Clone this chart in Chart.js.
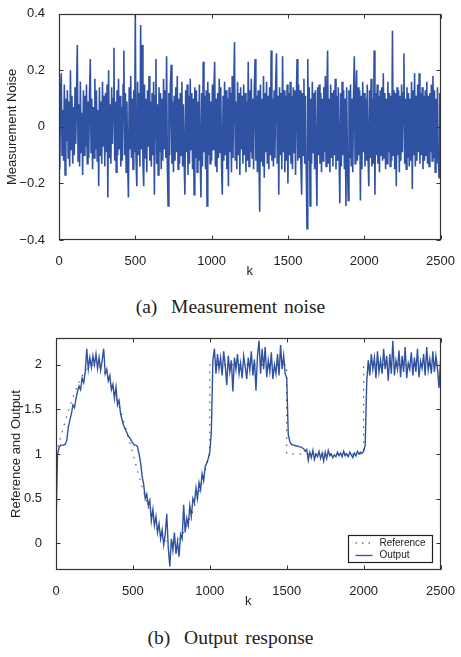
<!DOCTYPE html>
<html>
<head>
<meta charset="utf-8">
<script src="https://cdn.jsdelivr.net/npm/chart.js@4.4.1/dist/chart.umd.min.js"></script>
<style>
  html, body { margin: 0; padding: 0; background: #fff; }
  body { width: 461px; height: 657px; position: relative; overflow: hidden; }
  .panel { position: absolute; left: 0; }
  .caption {
    position: absolute; left: 0; width: 461px; text-align: center;
    font-family: "Liberation Serif", "Times New Roman", serif;
    font-size: 19.5px; color: #222; word-spacing: 2px;
  }
</style>
</head>
<body>
<div class="panel" style="top:0"><canvas id="noiseChart" width="461" height="290"></canvas></div>
<div class="caption" style="top:296px">(a)&nbsp; Measurement noise</div>
<div class="panel" style="top:320px"><canvas id="outputChart" width="461" height="300"></canvas></div>
<div class="caption" style="top:627px">(b)&nbsp; Output response</div>
<script>
// ---- (a) measurement noise, one sample every 5 steps ----
const noiseStep = 5;
const noiseVals = [
  0.08, -0.15, 0.12, 0.19, -0.1, 0.06, -0.12, 0.15, -0.17, 0.1, -0.05, 0.13, -0.11, 0.09, -0.14, 0.2, -0.08, 0.11, -0.13, 0.07,
  -0.1, 0.14, -0.06, 0.12, 0.29, -0.12, 0.08, -0.14, 0.16, -0.09, 0.05, -0.17, 0.13, -0.1, 0.11, -0.07, 0.15, -0.13, 0.09, -0.11,
  0.12, 0.24, -0.09, 0.1, -0.15, 0.07, -0.11, 0.17, -0.08, 0.13, -0.12, 0.06, -0.21, 0.14, -0.1, 0.09, -0.13, 0.16, -0.07, 0.11,
  -0.14, 0.12, -0.09, 0.15, -0.25, 0.2, -0.11, 0.08, -0.13, 0.14, -0.06, 0.1, 0.28, -0.12, 0.09, -0.16, 0.13, -0.1, 0.17, -0.08,
  0.11, -0.14, 0.07, -0.12, 0.15, 0.27, -0.1, 0.12, -0.16, 0.09, -0.13, -0.25, 0.14, -0.08, 0.18, -0.11, 0.1, -0.15, 0.13, -0.09,
  0.4, -0.12, -0.21, 0.16, -0.1, 0.12, -0.14, 0.36, -0.08, 0.29, -0.13, -0.21, 0.15, -0.11, 0.1, -0.16, 0.13, -0.07, 0.18, -0.12,
  0.09, -0.14, 0.12, -0.1, 0.16, -0.24, 0.11, 0.24, -0.13, 0.08, -0.17, 0.14, -0.09, 0.12, -0.15, 0.1, -0.12, 0.17, -0.08, 0.13,
  -0.11, 0.25, -0.14, -0.28, 0.12, -0.1, 0.15, 0.22, -0.13, 0.09, -0.16, 0.11, -0.12, 0.14, -0.09, 0.18, -0.15, 0.1, -0.13, 0.12,
  -0.1, 0.16, -0.14, 0.08, -0.12, -0.24, 0.13, -0.09, 0.15, -0.17, 0.11, -0.13, 0.17, -0.08, 0.12, -0.15, 0.1, -0.24, 0.14, -0.11,
  0.13, -0.16, 0.09, -0.12, 0.15, -0.1, -0.25, 0.12, -0.14, 0.23, -0.09, 0.11, -0.15, 0.13, -0.28, 0.16, -0.1, 0.12, -0.13, 0.09,
  -0.12, 0.15, -0.08, 0.13, 0.23, -0.14, 0.1, -0.16, 0.12, -0.11, 0.17, -0.09, 0.14, -0.13, -0.24, 0.11, -0.12, 0.16, -0.1, 0.13,
  -0.15, 0.1, -0.21, 0.14, -0.09, 0.12, -0.16, 0.18, -0.11, 0.13, 0.3, -0.12, 0.09, -0.15, 0.16, -0.1, 0.12, -0.17, 0.14, -0.08,
  0.11, -0.13, 0.15, -0.1, 0.12, -0.16, 0.09, -0.12, 0.23, -0.14, 0.13, -0.09, 0.17, -0.11, 0.1, -0.15, 0.14, 0.24, -0.12, 0.11,
  -0.16, 0.13, -0.1, -0.3, 0.15, -0.12, 0.1, -0.14, 0.18, -0.18, 0.12, -0.09, 0.16, -0.13, 0.11, -0.15, 0.14, -0.1, 0.27, -0.12,
  0.1, -0.14, 0.13, -0.11, 0.16, 0.26, -0.13, 0.11, -0.24, 0.14, -0.1, 0.12, -0.15, 0.25, -0.09, 0.13, -0.16, 0.11, -0.12, 0.15,
  -0.2, 0.12, -0.1, 0.16, -0.13, 0.11, -0.15, 0.14, -0.09, 0.13, -0.17, 0.1, 0.24, -0.12, 0.15, -0.11, 0.13, -0.14, -0.24, 0.12,
  -0.1, 0.17, -0.13, 0.11, -0.15, -0.36, 0.24, -0.12, 0.14, -0.28, 0.1, -0.13, 0.16, -0.09, 0.12, -0.15, 0.13, -0.11, -0.28, 0.14,
  -0.1, 0.15, -0.13, 0.12, -0.16, 0.1, -0.12, 0.14, -0.09, 0.18, -0.14, 0.11, 0.27, -0.13, 0.1, -0.16, 0.15, -0.11, 0.12, -0.14,
  0.13, -0.1, 0.17, -0.15, 0.11, -0.12, 0.14, -0.09, -0.27, 0.12, -0.14, 0.16, -0.1, 0.13, -0.15, 0.1, -0.28, 0.14, -0.12, -0.26,
  0.13, -0.11, 0.15, -0.14, 0.1, -0.16, 0.12, 0.25, -0.13, 0.11, 0.2, -0.12, 0.14, -0.1, 0.13, -0.26, 0.11, -0.15, 0.16, -0.09,
  0.12, -0.14, 0.1, -0.12, 0.15, -0.1, -0.21, 0.13, -0.11, 0.17, -0.14, 0.1, -0.13, 0.27, -0.24, 0.12, -0.1, 0.15, -0.13, 0.11,
  -0.16, 0.13, -0.1, 0.14, -0.12, 0.19, -0.11, 0.12, -0.15, 0.1, -0.13, 0.16, -0.09, 0.12, -0.14, 0.11, -0.12, 0.34, -0.1, 0.13,
  -0.15, 0.12, -0.21, 0.14, -0.1, 0.13, -0.16, 0.11, -0.12, 0.15, -0.09, 0.12, 0.26, -0.13, 0.1, -0.15, 0.14, -0.11, 0.12, -0.14,
  0.1, -0.12, 0.16, -0.22, 0.13, -0.1, 0.19, -0.14, 0.11, -0.12, 0.15, -0.09, 0.19, -0.13, 0.12, -0.1, 0.14, -0.15, 0.11, -0.12,
  0.13, -0.1, 0.16, -0.13, 0.11, -0.14, 0.12, -0.09, 0.15, -0.12, 0.18, -0.11, 0.13, -0.16, 0.1, -0.13, 0.14, -0.1, -0.18, 0.12,
  -0.15
];
const noiseYTicks = [-0.4, -0.2, 0, 0.2, 0.4];

// ---- (b) reference and output ----
const refK = [0, 25, 50, 75, 100, 125, 150, 175, 200, 225, 250, 275, 300, 325, 350, 375, 400, 425, 450, 475,
  500, 525, 550, 575, 600, 625, 650, 675, 700, 725, 750, 775, 800, 825, 850, 875, 900, 925, 950, 975,
  1000, 1000, 1500, 1500, 2000, 2000, 2500];
const refVals = [1.0, 1.156, 1.309, 1.454, 1.588, 1.707, 1.809, 1.891, 1.951, 1.988, 2.0, 1.988, 1.951, 1.891, 1.809, 1.707, 1.588, 1.454, 1.309, 1.156,
  1.0, 0.844, 0.691, 0.546, 0.412, 0.293, 0.191, 0.109, 0.049, 0.012, 0.0, 0.012, 0.049, 0.109, 0.191, 0.293, 0.412, 0.546, 0.691, 0.844,
  1.0, 2.0, 2.0, 1.0, 1.0, 2.0, 2.0];

const outStep = 10;
const outVals = [
  0.18, 1.0, 1.07, 1.1, 1.1, 1.1, 1.11, 1.15, 1.3, 1.38, 1.45, 1.55, 1.52, 1.62, 1.7, 1.76, 1.72, 1.85, 1.8, 1.92,
  2.18, 1.95, 2.08, 1.97, 2.1, 2.0, 2.12, 1.96, 2.08, 1.94, 2.05, 2.18, 1.9, 1.95, 1.82, 1.88, 1.72, 1.78, 1.62, 1.75,
  1.55, 1.6, 1.45, 1.38, 1.32, 1.28, 1.24, 1.2, 1.18, 1.15, 1.12, 1.1, 1.1, 1.08, 1.0, 0.9, 0.75, 0.66, 0.5, 0.55,
  0.42, 0.48, 0.25, 0.38, 0.2, 0.3, 0.12, 0.22, 0.05, 0.15, -0.02, 0.1, 0.33, -0.05, -0.26, 0.05, -0.08, 0.12, -0.12, 0.02,
  -0.15, 0.1, 0.05, 0.43, 0.12, 0.28, 0.2, 0.42, 0.3, 0.5, 0.45, 0.62, 0.5, 0.68, 0.6, 0.78, 0.7, 0.86, 0.9, 0.95,
  1.02, 1.25, 2.05, 2.18, 1.9, 2.12, 1.95, 2.08, 1.88, 2.15, 2.0, 1.77, 2.1, 1.92, 2.05, 1.7, 2.08, 1.95, 2.12, 1.9,
  2.02, 1.85, 2.1, 1.98, 1.84, 2.08, 1.94, 2.15, 1.88, 2.06, 1.71, 2.1, 2.27, 1.9, 2.18, 1.95, 2.2, 1.86, 2.05, 1.92,
  2.14, 1.84, 2.0, 1.9, 2.12, 1.88, 2.22, 1.95, 2.1, 1.9, 1.85, 1.22, 1.14, 1.11, 1.1, 1.1, 1.09, 1.09, 1.08, 1.08,
  1.07, 1.06, 1.03, 1.05, 0.93, 1.02, 0.96, 1.04, 0.94, 1.0, 0.97, 1.03, 0.95, 1.01, 0.92, 1.02, 0.95, 1.04, 0.98, 1.0,
  0.96, 0.99, 0.97, 1.02, 0.98, 1.01, 0.97, 1.03, 0.98, 1.0, 0.97, 1.02, 0.99, 0.96, 1.01, 0.98, 1.03, 1.0, 1.02, 1.01,
  1.03, 1.1, 1.8, 2.05, 1.88, 2.12, 1.95, 2.08, 1.85, 2.15, 1.92, 2.05, 1.9, 2.18, 1.95, 2.1, 1.82, 2.12, 1.9, 2.27,
  1.88, 2.05, 1.95, 2.16, 1.86, 2.1, 1.92, 2.2, 1.85, 2.02, 1.95, 2.14, 1.88, 2.08, 1.92, 2.18, 1.86, 2.04, 1.96, 2.12,
  1.88, 2.2, 1.94, 2.06, 1.9, 2.15, 1.92, 2.1, 1.96, 1.74, 2.05
];
const outYTicks = [0, 0.5, 1, 1.5, 2];
const kTicks = [0, 500, 1000, 1500, 2000, 2500];

const blue = '#2f52a3';
const ink = '#222';

Chart.defaults.font.family = '"Liberation Sans", Arial, Helvetica, sans-serif';
Chart.defaults.color = ink;

function fmt(v) {
  if (v === 0) return '0';
  return (v < 0 ? '\u2212' : '') + String(Math.abs(v));
}

// MATLAB style box with inward ticks on all four sides
const boxPlugin = {
  id: 'box',
  afterDatasetsDraw(chart) {
    const { ctx, chartArea: a, scales: { x, y } } = chart;
    const L = Math.round(a.left) + 0.5, R = Math.round(a.right) - 0.5;
    const T = Math.round(a.top) + 0.5, B = Math.round(a.bottom) - 0.5;
    ctx.save();
    ctx.strokeStyle = '#333';
    ctx.lineWidth = 1;
    ctx.beginPath();
    x.ticks.forEach(t => {
      const px = Math.round(x.getPixelForValue(t.value)) + 0.5;
      ctx.moveTo(px, B); ctx.lineTo(px, B - 4);
      ctx.moveTo(px, T); ctx.lineTo(px, T + 4);
    });
    y.ticks.forEach(t => {
      const py = Math.round(y.getPixelForValue(t.value)) + 0.5;
      ctx.moveTo(L, py); ctx.lineTo(L + 4, py);
      ctx.moveTo(R, py); ctx.lineTo(R - 4, py);
    });
    ctx.stroke();
    ctx.lineWidth = 1.2;
    ctx.strokeRect(L, T, R - L, B - T);
    ctx.restore();
  }
};

// small legend box in the lower right corner of the plot
const legendBox = {
  id: 'legendBox',
  afterDraw(chart, args, opts) {
    if (!opts.show) return;
    const { ctx, chartArea: a } = chart;
    const w = 84, h = 27;
    const x0 = Math.round(a.right - 9 - w) + 0.5, y0 = Math.round(a.bottom - 8 - h) + 0.5;
    ctx.save();
    ctx.fillStyle = '#fff';
    ctx.fillRect(x0, y0, w, h);
    ctx.strokeStyle = '#222';
    ctx.lineWidth = 1.2;
    ctx.strokeRect(x0, y0, w, h);
    // Reference
    ctx.lineWidth = 1;
    ctx.strokeStyle = '#333';
    ctx.setLineDash([1.5, 5]);
    ctx.beginPath();
    ctx.moveTo(x0 + 7, y0 + 7.5); ctx.lineTo(x0 + 24, y0 + 7.5);
    ctx.stroke();
    ctx.setLineDash([]);
    // Output
    ctx.strokeStyle = blue;
    ctx.lineWidth = 1.3;
    ctx.beginPath();
    ctx.moveTo(x0 + 7, y0 + 20); ctx.lineTo(x0 + 24, y0 + 20);
    ctx.stroke();
    ctx.fillStyle = ink;
    ctx.font = '10px "Liberation Sans", Arial, sans-serif';
    ctx.textBaseline = 'middle';
    ctx.fillText('Reference', x0 + 31, y0 + 7.5);
    ctx.fillText('Output', x0 + 31, y0 + 20);
    ctx.restore();
  }
};

function axes(yMin, yMax, yTicks, yTitle, yWidth, yTitlePad) {
  return {
    x: {
      type: 'linear', min: 0, max: 2500,
      afterBuildTicks: s => { s.ticks = kTicks.map(v => ({ value: v })); },
      afterFit: s => { s.height = 50; },
      grid: { display: false }, border: { display: false },
      ticks: { font: { size: 13 }, padding: 6, maxRotation: 0, callback: v => String(v) },
      title: { display: true, text: 'k', font: { size: 13 }, padding: { top: 0, bottom: 11 } }
    },
    y: {
      min: yMin, max: yMax,
      afterBuildTicks: s => { s.ticks = yTicks.map(v => ({ value: v })); },
      afterFit: s => { s.width = yWidth; },
      grid: { display: false }, border: { display: false },
      ticks: { font: { size: 13 }, padding: 6, callback: v => fmt(v) },
      title: { display: true, text: yTitle, font: { size: 13 }, padding: { top: yTitlePad, bottom: 0 } }
    }
  };
}

new Chart(document.getElementById('noiseChart'), {
  type: 'line',
  data: {
    datasets: [{
      label: 'Measurement Noise',
      data: noiseVals.map((v, i) => ({ x: i * noiseStep, y: v })),
      borderColor: blue, borderWidth: 1.6, pointRadius: 0, tension: 0
    }]
  },
  options: {
    responsive: false, animation: false,
    layout: { padding: { top: 8, right: 14, left: 0, bottom: 0 } },
    scales: axes(-0.4, 0.4, noiseYTicks, 'Measurement Noise', 59, 5),
    plugins: { legend: { display: false }, tooltip: { enabled: false }, legendBox: { show: false } }
  },
  plugins: [boxPlugin, legendBox]
});

new Chart(document.getElementById('outputChart'), {
  type: 'line',
  data: {
    datasets: [{
      label: 'Reference',
      data: refK.map((k, i) => ({ x: k, y: refVals[i] })),
      borderColor: '#333', borderWidth: 1, borderDash: [1.5, 6], pointRadius: 0, tension: 0
    }, {
      label: 'Output',
      data: outVals.map((v, i) => ({ x: i * outStep, y: v })),
      borderColor: blue, borderWidth: 1.4, pointRadius: 0, tension: 0
    }]
  },
  options: {
    responsive: false, animation: false,
    layout: { padding: { top: 18, right: 18, left: 0, bottom: 0 } },
    scales: axes(-0.3, 2.3, outYTicks, 'Reference and Output', 56, 9),
    plugins: { legend: { display: false }, tooltip: { enabled: false }, legendBox: { show: true } }
  },
  plugins: [boxPlugin, legendBox]
});
</script>
</body>
</html>
